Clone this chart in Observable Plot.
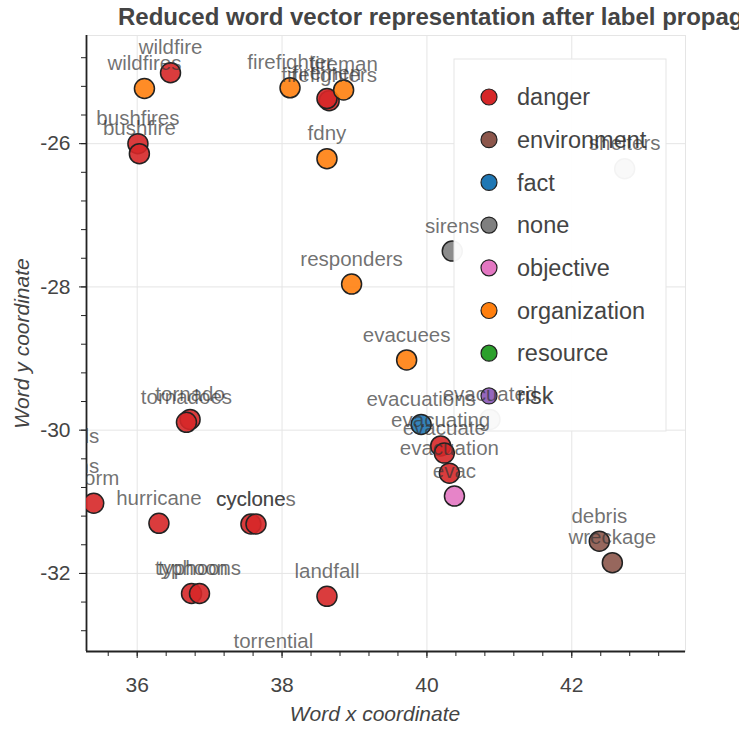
<!DOCTYPE html>
<html><head><meta charset="utf-8">
<script src="https://cdn.jsdelivr.net/npm/d3@7"></script>
<script src="https://cdn.jsdelivr.net/npm/@observablehq/plot@0.6"></script>
<style>
body{margin:0;background:#fff;font-family:"Liberation Sans",Arial,sans-serif;}
#title{width:739px;height:30px;overflow:hidden;white-space:nowrap;font-weight:bold;font-size:24px;color:#444;padding-left:118px;box-sizing:border-box;line-height:34px;}
</style></head><body>
<div id="title">Reduced word vector representation after label propagation</div>
<div id="chart"></div>
<script>
const words = ["wildfire","bushfires","bushfire","firefighters","firemen","tornado","tornadoes","storm","floods","storms","hurricane","cyclone","cyclones","typhoon","typhoons","landfall","evacuating","evacuate","evacuation","torrential",
  "debris","wreckage",
  "evacuations",
  "sirens","evacuated","shelters",
  "evac",
  "wildfires","firefighter","fireman","fdny","responders","evacuees"];
const xs = [36.46,36.01,36.03,38.65,38.62,36.73,36.68,35.40,35.10,35.05,36.30,37.57,37.64,36.75,36.86,38.62,40.19,40.24,40.31,37.88,
  42.38,42.56,
  39.92,
  40.35,40.87,42.73,
  40.38,
  36.10,38.11,38.85,38.62,38.96,39.72];
const ys = [-25.01,-26.00,-26.14,-25.40,-25.37,-29.85,-29.89,-31.02,-30.43,-30.86,-31.30,-31.31,-31.31,-32.28,-32.28,-32.32,-30.22,-30.32,-30.60,-33.30,
  -31.55,-31.85,
  -29.92,
  -27.50,-29.85,-26.35,
  -30.92,
  -25.23,-25.22,-25.25,-26.21,-27.96,-29.02];
const cats = [
  "danger","danger","danger","danger","danger","danger","danger","danger","danger","danger","danger","danger","danger","danger","danger","danger","danger","danger","danger","danger",
  "environment","environment",
  "fact",
  "none","none","none",
  "objective",
  "organization","organization","organization","organization","organization","organization"];
const categories = ["danger","environment","fact","none","objective","organization","resource","risk"];
const palette = ["#d62728","#8c564b","#1f77b4","#7f7f7f","#e377c2","#ff7f0e","#2ca02c","#9467bd"];
const xDomain = [35.3, 43.57];
const yDomain = [-33.09, -24.49];
const xTicks = [36, 38, 40, 42];
const yTicks = [-32, -30, -28, -26];
const xMinor = d3.range(35.6, 43.5, 0.4).map(v => +v.toFixed(1));
const yMinor = d3.range(-32.8, -24.5, 0.4).map(v => +v.toFixed(1));

const data = words.map((w, i) => ({word: w, x: xs[i], y: ys[i], cat: cats[i]}));

function legend(index, scales, values, dims) {
  const color = scales.color || d3.scaleOrdinal(categories, palette);
  const left = dims.width - dims.marginRight - 19 - 212;
  const top = dims.marginTop + 24;
  const g = d3.create("svg:g");
  g.append("rect").attr("x", left).attr("y", top).attr("width", 212).attr("height", 372)
    .attr("fill", "#fff").attr("fill-opacity", 0.95).attr("stroke", "#e5e5e5");
  categories.forEach((c, i) => {
    const cy = top + 38 + i * 42.7;
    g.append("circle").attr("cx", left + 35).attr("cy", cy).attr("r", 8)
      .attr("fill", color(c)).attr("stroke", "#222").attr("stroke-width", 1.2);
    g.append("text").attr("x", left + 63).attr("y", cy).attr("dy", "0.35em")
      .attr("text-anchor", "start")
      .attr("font-size", 23.5).attr("fill", "#444").text(c);
  });
  return g.node();
}

const chart = Plot.plot({
  width: 739,
  height: 701,
  marginLeft: 86,
  marginRight: 54,
  marginTop: 5,
  marginBottom: 80,
  style: {fontFamily: "'Liberation Sans', Arial, sans-serif", background: "#fff"},
  x: {domain: xDomain, label: null},
  y: {domain: yDomain, label: null},
  color: {domain: categories, range: palette},
  marks: [
    Plot.frame({stroke: "#e5e5e5"}),
    Plot.gridX(xTicks, {stroke: "#e5e5e5", strokeOpacity: 1}),
    Plot.gridY(yTicks, {stroke: "#e5e5e5", strokeOpacity: 1}),
    Plot.axisX(xMinor, {tickSize: 5, tickFormat: () => "", stroke: "#222", label: null}),
    Plot.axisY(yMinor, {tickSize: 5, tickFormat: () => "", stroke: "#222", label: null}),
    Plot.axisX(xTicks, {tickSize: 7, tickPadding: 19, fontSize: 21, fill: "#444", stroke: "#222", label: null, tickFormat: d => String(d)}),
    Plot.axisY(yTicks, {tickSize: 7, tickPadding: 9, fontSize: 21, fill: "#444", stroke: "#222", label: null, tickFormat: d => String(d)}),
    Plot.ruleX([xDomain[0]], {stroke: "#222", strokeWidth: 1.8}),
    Plot.ruleY([yDomain[0]], {stroke: "#222", strokeWidth: 1.8}),
    Plot.text(["Word x coordinate"], {frameAnchor: "bottom", dy: 69, dx: -11, text: d => d, fontSize: 21, fontStyle: "italic", fill: "#444"}),
    Plot.text(["Word y coordinate"], {frameAnchor: "left", textAnchor: "middle", dx: -64, rotate: -90, text: d => d, fontSize: 21, fontStyle: "italic", fill: "#444"}),
    Plot.dot(data, {x: "x", y: "y", fill: "cat", r: 10, stroke: "#222", strokeWidth: 1.5, fillOpacity: 0.9, clip: true}),
    legend,
    Plot.text(data, {x: "x", y: "y", text: "word", dy: -25, fontSize: 20.5, fill: "#333", fillOpacity: 0.7, clip: true})
  ]
});
document.getElementById("chart").appendChild(chart);
</script>
</body></html>
